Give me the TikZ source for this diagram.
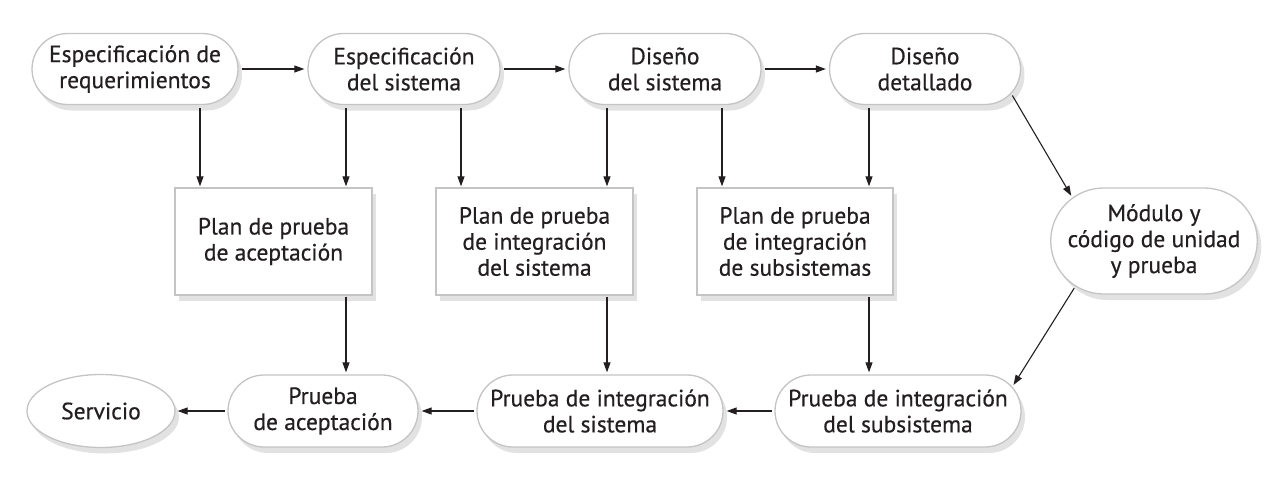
\documentclass[tikz,border=0pt]{standalone}
\usepackage{fontspec}
\setmainfont{PT Sans}[FakeBold=0.5]
\usetikzlibrary{shapes.misc,shapes.geometric,shadows,arrows.meta,calc}
\definecolor{bord}{HTML}{C4C4C4}
\definecolor{shad}{HTML}{E2E2E2}
\definecolor{ink}{HTML}{231F20}
\tikzset{
  base/.style={draw=bord, line width=1.3pt, fill=white, text=ink, align=center,
    font=\fontsize{23.5}{26}\selectfont, inner sep=2pt,
    drop shadow={shadow xshift=4pt, shadow yshift=-6pt, fill=shad, opacity=1}},
  stad/.style={base, rounded rectangle, minimum height=71pt},
  boxn/.style={base, rectangle, minimum height=107pt},
  ovaln/.style={base, ellipse, minimum width=148pt, minimum height=73pt},
  arr/.style={draw=ink, line width=1.1pt, -{Triangle[length=10pt,width=7pt]}}
}
\begin{document}
\begin{tikzpicture}[x=1pt,y=-1pt]
\useasboundingbox (0,0) rectangle (1280,490);
% top row
\node[stad, minimum width=210pt] (req) at (135,69) {Especificación de\\requerimientos};
\node[stad, minimum width=196pt] (sist) at (404,69) {Especificación\\del sistema};
\node[stad, minimum width=196pt] (dsis) at (665,69) {Diseño\\del sistema};
\node[stad, minimum width=195pt] (ddet) at (925,69) {Diseño\\detallado};
% middle row
\node[boxn, minimum width=197pt] (pa) at (273.5,241.5) {Plan de prueba\\de aceptación};
\node[boxn, minimum width=197pt] (pis) at (534.5,241.5) {Plan de prueba\\de integración\\del sistema};
\node[boxn, minimum width=196pt] (pss) at (795,241.5) {Plan de prueba\\de integración\\de subsistemas};
\node[stad, minimum width=198pt, minimum height=106pt] (mod) at (1154,241) {Módulo y\\código de unidad\\y prueba};
% bottom row
\node[ovaln] (serv) at (101,411) {Servicio};
\node[stad, minimum width=194pt, minimum height=72pt] (prA) at (323,411) {Prueba\\de aceptación};
\node[stad, minimum width=250pt, minimum height=72pt] (prIS) at (600,411) {Prueba de integración\\del sistema};
\node[stad, minimum width=250pt, minimum height=72pt] (prSS) at (898,411) {Prueba de integración\\del subsistema};
% horizontal arrows
\draw[arr, shorten <=3pt, shorten >=3pt] (req.east) -- (sist.west);
\draw[arr, shorten <=3pt, shorten >=3pt] (sist.east) -- (dsis.west);
\draw[arr, shorten <=3pt, shorten >=3pt] (dsis.east) -- (ddet.west);
\draw[arr, shorten <=2pt, shorten >=3pt] (prSS.west) -- (prIS.east);
\draw[arr, shorten <=2pt, shorten >=3pt] (prIS.west) -- (prA.east);
\draw[arr, shorten <=2pt, shorten >=2pt] (prA.west) -- (serv.east);
% vertical arrows down to plans
\draw[arr, shorten <=3pt, shorten >=1pt] (req.south -| 200,0) -- (pa.north -| 200,0);
\draw[arr, shorten <=3pt, shorten >=1pt] (sist.south -| 346,0) -- (pa.north -| 346,0);
\draw[arr, shorten <=3pt, shorten >=1pt] (sist.south -| 461,0) -- (pis.north -| 461,0);
\draw[arr, shorten <=3pt, shorten >=1pt] (dsis.south -| 607,0) -- (pis.north -| 607,0);
\draw[arr, shorten <=3pt, shorten >=1pt] (dsis.south -| 722,0) -- (pss.north -| 722,0);
\draw[arr, shorten <=3pt, shorten >=1pt] (ddet.south -| 869,0) -- (pss.north -| 869,0);
% plans to tests
\draw[arr, shorten <=1pt, shorten >=2pt] (pa.south -| 346,0) -- (prA.north -| 346,0);
\draw[arr, shorten <=1pt, shorten >=2pt] (pis.south -| 607,0) -- (prIS.north -| 607,0);
\draw[arr, shorten <=1pt, shorten >=2pt] (pss.south -| 869,0) -- (prSS.north -| 869,0);
% diagonal arrows
\draw[arr, shorten <=2pt, shorten >=2pt] (ddet.-16) -- (mod.152);
\draw[arr, shorten <=2pt, shorten >=2pt] (mod.210) -- (prSS.12);
\end{tikzpicture}
\end{document}
